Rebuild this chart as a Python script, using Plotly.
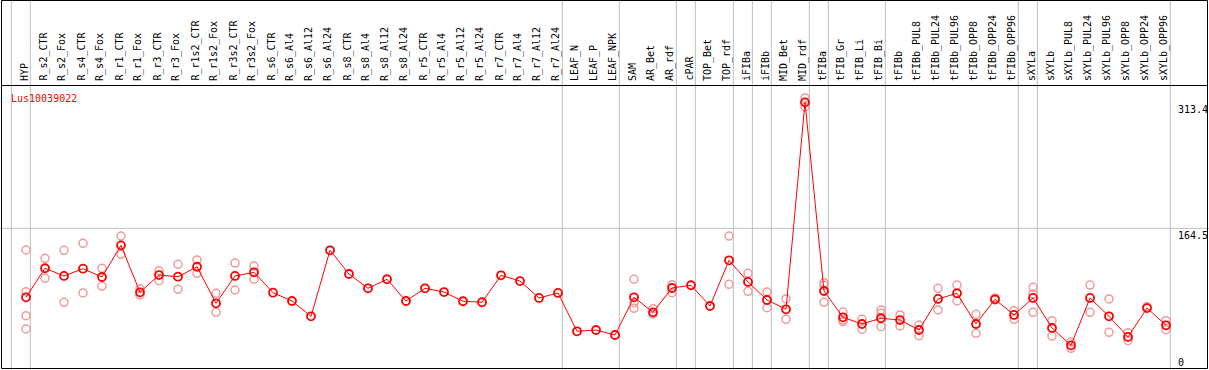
import plotly.graph_objects as go

categories = ["HYP", "R_s2_CTR", "R_s2_Fox", "R_s4_CTR", "R_s4_Fox", "R_r1_CTR", "R_r1_Fox",
              "R_r3_CTR", "R_r3_Fox", "R_r1s2_CTR", "R_r1s2_Fox", "R_r3s2_CTR", "R_r3s2_Fox",
              "R_s6_CTR", "R_s6_Al4", "R_s6_Al12", "R_s6_Al24", "R_s8_CTR", "R_s8_Al4", "R_s8_Al12",
              "R_s8_Al24", "R_r5_CTR", "R_r5_Al4", "R_r5_Al12", "R_r5_Al24", "R_r7_CTR", "R_r7_Al4",
              "R_r7_Al12", "R_r7_Al24", "LEAF_N", "LEAF_P", "LEAF_NPK", "SAM", "AR_Bet", "AR_rdf",
              "cPAR", "TOP_Bet", "TOP_rdf", "iFIBa", "iFIBb", "MID_Bet", "MID_rdf", "tFIBa",
              "tFIB_Gr", "tFIB_Li", "tFIB_Bi", "tFIBb", "tFIBb_PUL8", "tFIBb_PUL24", "tFIBb_PUL96",
              "tFIBb_OPP8", "tFIBb_OPP24", "tFIBb_OPP96", "sXYLa", "sXYLb", "sXYLb_PUL8",
              "sXYLb_PUL24", "sXYLb_PUL96", "sXYLb_OPP8", "sXYLb_OPP24", "sXYLb_OPP96"]

means = [83.0, 117.3, 108.2, 116.8, 107.0, 144.4, 88.9, 109.3, 107.3, 119.1, 75.9, 108.2, 112.5,
         88.4, 78.6, 60.5, 138.5, 110.5, 93.6, 104.3, 78.6, 93.6, 89.2, 78.3, 77.1, 109.0, 102.2,
         82.2, 88.1, 42.8, 44.3, 38.4, 83.0, 65.2, 94.0, 97.2, 72.7, 126.7, 101.1, 79.8, 68.8,
         313.4, 90.4, 59.3, 51.4, 58.2, 56.1, 44.3, 81.0, 87.7, 51.4, 80.6, 62.1, 82.2, 46.7,
         26.2, 82.2, 60.5, 36.1, 70.3, 49.9]

replicates = [
    [138.9, 89.6, 61.2, 45.5], [129.1, 105.4], [138.5, 77.1], [146.8, 88.1], [117.3, 96.3],
    [155.4, 133.8], [93.1, 85.7], [114.4, 102.6], [122.0, 92.4], [127.1, 111.3], [87.7, 65.2],
    [123.5, 91.6], [120.0, 104.3], [], [], [], [], [], [], [], [], [], [], [], [], [], [], [], [],
    [], [], [], [104.3, 76.6, 70.0], [69.5, 63.2], [97.9, 88.4], [], [], [155.4, 98.3],
    [111.3, 90.1], [89.2, 70.7], [81.0, 57.0], [318.6, 308.0], [100.2, 97.2, 77.1],
    [65.6, 56.1, 54.1], [57.0, 45.2], [68.0, 64.1, 48.2], [62.1, 49.1], [50.2, 37.6],
    [93.6, 68.0], [97.5, 78.6], [62.9, 40.4], [82.2, 79.8], [67.1, 57.0], [94.8, 86.9, 65.2],
    [55.3, 37.2], [30.1, 22.7], [97.5, 65.2], [81.0, 41.6], [41.1, 31.7], [71.9], [55.3, 44.7]]

# indices of the last category in each group (separator drawn after it); -1 = left edge
group_ends = [-1, 0, 28, 31, 34, 35, 37, 38, 39, 41, 42, 45, 52, 53, 60]

gene_id = "Lus10039022"
axis_ticks = [313.4, 164.5, 0]

W, H = 1209, 370
xs = list(range(len(categories)))

def px_x(p):
    return p / W

def px_y(p):
    return 1 - p / H

rx, ry = [], []
for i, reps in enumerate(replicates):
    for v in reps:
        rx.append(i)
        ry.append(v)

fig = go.Figure()
fig.add_trace(go.Scatter(x=rx, y=ry, mode="markers",
                         marker=dict(symbol="circle-open", size=8, color="rgb(240,155,155)",
                                     line=dict(width=1.5, color="rgb(240,155,155)")),
                         hoverinfo="skip", showlegend=False))
fig.add_trace(go.Scatter(x=xs, y=means, mode="lines+markers",
                         line=dict(color="red", width=1),
                         marker=dict(symbol="circle-open", size=8, color="red",
                                     line=dict(width=1.8, color="red")),
                         text=categories, showlegend=False))

shapes = []
for g in group_ends:
    shapes.append(dict(type="line", xref="x", yref="paper", x0=g + 0.23, x1=g + 0.23,
                       y0=0, y1=1, line=dict(color="#c0c0c0", width=1), layer="below"))
shapes.append(dict(type="line", xref="paper", yref="y", x0=0, x1=1, y0=axis_ticks[1],
                   y1=axis_ticks[1], line=dict(color="#c0c0c0", width=1), layer="below"))
# borders
shapes.append(dict(type="rect", xref="paper", yref="paper", x0=px_x(1.5), x1=px_x(1207.5),
                   y0=px_y(368.5), y1=px_y(0.5), line=dict(color="black", width=1)))
shapes.append(dict(type="line", xref="paper", yref="paper", x0=px_x(1.5), x1=px_x(1207.5),
                   y0=px_y(85.5), y1=px_y(85.5), line=dict(color="black", width=1)))

ann = []
mono = "DejaVu Sans Mono"
for i, c in enumerate(categories):
    ann.append(dict(x=i - 0.1, xref="x", y=px_y(83), yref="paper", text=c, showarrow=False,
                    textangle=-90, xanchor="center", yanchor="bottom",
                    font=dict(family=mono, size=10, color="black")))
ann.append(dict(x=px_x(9), xref="paper", y=px_y(91), yref="paper", text=gene_id,
                showarrow=False, xanchor="left", yanchor="top",
                font=dict(family=mono, size=10, color="red")))
for t in axis_ticks:
    if t == 0:
        ann.append(dict(x=px_x(1176), xref="paper", y=px_y(362), yref="paper", text="0",
                        showarrow=False, xanchor="left", yanchor="middle",
                        font=dict(family=mono, size=10, color="black")))
    else:
        ann.append(dict(x=px_x(1176), xref="paper", y=t, yref="y", text=str(t),
                        showarrow=False, xanchor="left", yanchor="top",
                        font=dict(family=mono, size=10, color="black")))

fig.update_layout(
    width=W, height=H, margin=dict(l=0, r=0, t=0, b=0),
    paper_bgcolor="white", plot_bgcolor="white",
    xaxis=dict(range=[-26 / 19, (W - 26) / 19], visible=False, fixedrange=True),
    yaxis=dict(range=[(367.5 - H) / 0.846, 367.5 / 0.846], visible=False, fixedrange=True),
    shapes=shapes, annotations=ann, showlegend=False,
)

fig.write_html("out.html", config={"displayModeBar": False},
               post_script="document.body.style.margin='0';document.body.style.overflow='hidden';")
